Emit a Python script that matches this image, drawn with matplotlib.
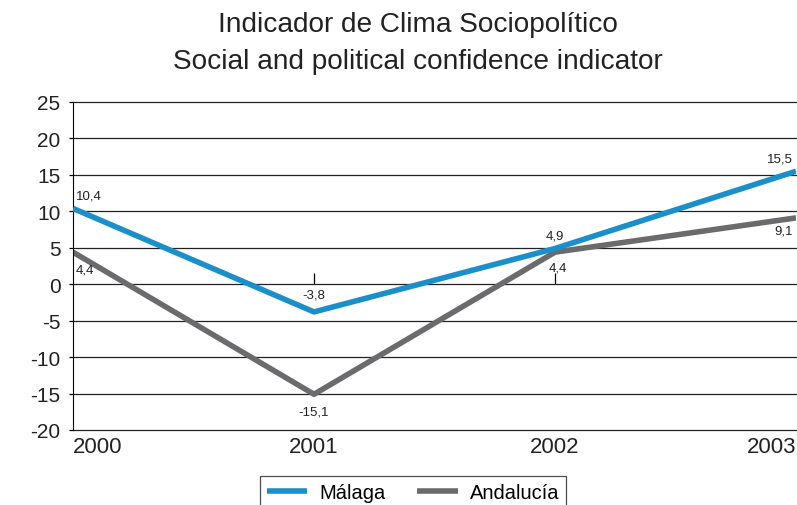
import matplotlib.pyplot as plt

plt.rcParams['font.family'] = ['Liberation Sans', 'DejaVu Sans']

years = [2000, 2001, 2002, 2003]
malaga = [10.4, -3.8, 4.9, 15.5]
andalucia = [4.4, -15.1, 4.4, 9.1]
yticks = [-20, -15, -10, -5, 0, 5, 10, 15, 20, 25]

blue = '#1a8fca'
grey = '#6b6b6e'

fig = plt.figure(figsize=(7.97, 5.06), dpi=100)
ax = fig.add_axes([73 / 797, 1 - 431 / 506, 723 / 797, 328 / 506])

ax.plot(years, malaga, color=blue, lw=4, solid_capstyle='butt', label='Málaga', zorder=3)
ax.plot(years, andalucia, color=grey, lw=4, solid_capstyle='butt', label='Andalucía', zorder=2)

ax.set_xlim(years[0], years[-1])
ax.set_ylim(yticks[0], yticks[-1])
ax.set_yticks(yticks)
ax.set_yticklabels([str(t) for t in yticks])
ax.grid(axis='y', color='#222222', lw=0.9)
for gl in ax.get_ygridlines():
    gl.set_clip_on(False)
ax.tick_params(axis='y', length=3, width=0.9, labelsize=15, pad=6, labelcolor='#222222')

# x axis drawn through zero with short inward ticks at the inner years
ax.spines['bottom'].set_position(('data', 0))
ax.spines['bottom'].set_visible(False)
ax.spines['top'].set_visible(False)
ax.spines['right'].set_visible(False)
ax.set_xticks(years[1:-1])
ax.tick_params(axis='x', direction='in', length=8, width=0.9, labelbottom=False)

for i, yr in enumerate(years):
    ha = 'left' if i == 0 else ('right' if i == len(years) - 1 else 'center')
    ax.annotate(str(yr), (yr, yticks[0]), xytext=(0, -4), textcoords='offset points',
                ha=ha, va='top', fontsize=16, color='#222222')

# value labels
offs_m = [(2, 5, 'left', 'bottom'), (0, 8, 'center', 'bottom'),
          (0, 5, 'center', 'bottom'), (-2, 5, 'right', 'bottom')]
offs_a = [(2, -8, 'left', 'top'), (0, -8, 'center', 'top'),
          (2, -7, 'center', 'top'), (-2, -5, 'right', 'top')]
for yr, v, (dx, dy, ha, va) in zip(years, malaga, offs_m):
    ax.annotate(f'{v:.1f}'.replace('.', ','), (yr, v), xytext=(dx, dy),
                textcoords='offset points', ha=ha, va=va, fontsize=9.5, color='#222222')
for yr, v, (dx, dy, ha, va) in zip(years, andalucia, offs_a):
    ax.annotate(f'{v:.1f}'.replace('.', ','), (yr, v), xytext=(dx, dy),
                textcoords='offset points', ha=ha, va=va, fontsize=9.5, color='#222222')

fig.text(418 / 797, 1 - 25 / 506, 'Indicador de Clima Sociopolítico',
         ha='center', va='center', fontsize=20.2, color='#222222')
fig.text(418 / 797, 1 - 62 / 506, 'Social and political confidence indicator',
         ha='center', va='center', fontsize=20.2, color='#222222')

leg = fig.legend(loc='upper center', bbox_to_anchor=(413 / 797, 1 - 477 / 506),
                 ncol=2, frameon=True, fancybox=False, fontsize=14.5, borderpad=0.35,
                 borderaxespad=0, handlelength=2.0, columnspacing=1.6, handletextpad=0.6)
leg.get_frame().set_edgecolor('#222222')
leg.get_frame().set_linewidth(0.9)

fig.savefig('out.png', dpi=100)
